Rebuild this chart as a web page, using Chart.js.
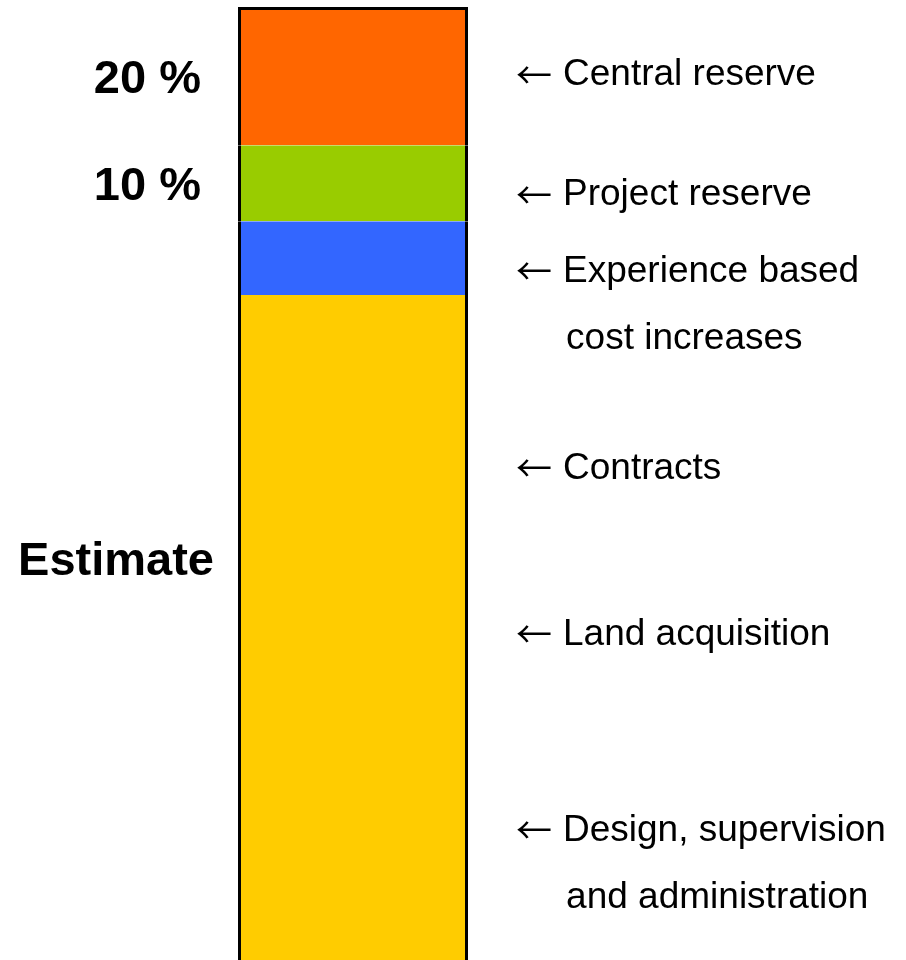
<!DOCTYPE html>
<html>
<head>
<meta charset="utf-8">
<script src="https://cdn.jsdelivr.net/npm/chart.js@4/dist/chart.umd.min.js"></script>
<style>
  html, body { margin: 0; padding: 0; background: #ffffff; }
  #wrap { width: 906px; height: 960px; position: relative; }
</style>
</head>
<body>
<div id="wrap"><canvas id="c"></canvas></div>
<script>
// ---- data ----
const categories = ['Cost'];
const segmentNames = ['Estimate', 'Experience based cost increases', 'Project reserve', 'Central reserve'];
const segmentValues = [100, 11.1, 11.4, 20.8];
const segmentColors = ['#FFCC00', '#3366FF', '#99CC00', '#FF6600'];

const leftLabels = ['20 % ', '10 % ', 'Estimate'];
const leftLabelValues = [132.3, 116.2, 59.9];

const arrowGlyph = '\u2190';
const rightLabels = [
  'Central reserve',
  'Project reserve',
  ['Experience based', '\u200Acost increases'],
  'Contracts',
  'Land acquisition',
  ['Design, supervision', '\u200Aand administration']
];
const rightLabelValues = [133.1, 115.0, 98.5, 73.9, 48.9, 14.4];

const total = segmentValues.reduce((a, b) => a + b, 0);

const datasets = segmentValues.map((v, i) => ({
  label: segmentNames[i],
  data: [v],
  backgroundColor: segmentColors[i],
  borderColor: '#000000',
  borderWidth: { left: 3, right: 3, top: i === segmentValues.length - 1 ? 3 : 0, bottom: 0 },
  borderSkipped: false,
  inflateAmount: 0,
  categoryPercentage: 1.0,
  barPercentage: 1.0,
  yAxisID: 'y'
}));

const RIGHT_FONT_SIZE = 37;
const RIGHT_LINE_HEIGHT = 67 / RIGHT_FONT_SIZE;

// draws the leading arrow of each right-hand label
const arrowPlugin = {
  id: 'arrows',
  afterDraw(chart) {
    const scale = chart.scales.y2;
    const ctx = chart.ctx;
    ctx.save();
    ctx.fillStyle = '#000000';
    ctx.font = "36px 'Noto Sans CJK SC'";
    ctx.textAlign = 'left';
    ctx.textBaseline = 'middle';
    scale.ticks.forEach((t, i) => {
      const lbl = rightLabels[i];
      const lines = Array.isArray(lbl) ? lbl.length : 1;
      const y = scale.getPixelForValue(t.value) - (lines - 1) * RIGHT_FONT_SIZE * RIGHT_LINE_HEIGHT / 2;
      ctx.fillText(arrowGlyph, scale.left + 48, y);
    });
    ctx.restore();
  }
};

new Chart(document.getElementById('c'), {
  type: 'bar',
  data: { labels: categories, datasets: datasets },
  plugins: [arrowPlugin],
  options: {
    responsive: true,
    maintainAspectRatio: false,
    animation: false,
    layout: { autoPadding: false, padding: { top: 7, bottom: 0, left: 0, right: 0 } },
    plugins: { legend: { display: false }, tooltip: { enabled: false } },
    scales: {
      x: { display: false, stacked: true },
      y: {
        position: 'left',
        stacked: true,
        min: 0,
        max: total,
        grid: { display: false, drawTicks: false },
        border: { display: false },
        afterBuildTicks: (axis) => { axis.ticks = leftLabelValues.map(v => ({ value: v })); },
        afterFit: (axis) => { axis.width = 238; axis.paddingTop = 0; axis.paddingBottom = 0; },
        ticks: {
          autoSkip: false,
          padding: 24,
          color: '#000000',
          font: { family: "'Liberation Sans', Arial, sans-serif", size: 47, weight: 'bold' },
          callback: (value, index) => leftLabels[index]
        }
      },
      y2: {
        position: 'right',
        min: 0,
        max: total,
        grid: { display: false, drawTicks: false },
        border: { display: false },
        afterBuildTicks: (axis) => { axis.ticks = rightLabelValues.map(v => ({ value: v })); },
        afterFit: (axis) => { axis.width = 438; axis.paddingTop = 0; axis.paddingBottom = 0; },
        ticks: {
          autoSkip: false,
          padding: 95,
          color: '#000000',
          font: { family: "'Liberation Sans', Arial, sans-serif", size: RIGHT_FONT_SIZE, lineHeight: RIGHT_LINE_HEIGHT },
          callback: (value, index) => rightLabels[index]
        }
      }
    }
  }
});
</script>
</body>
</html>
